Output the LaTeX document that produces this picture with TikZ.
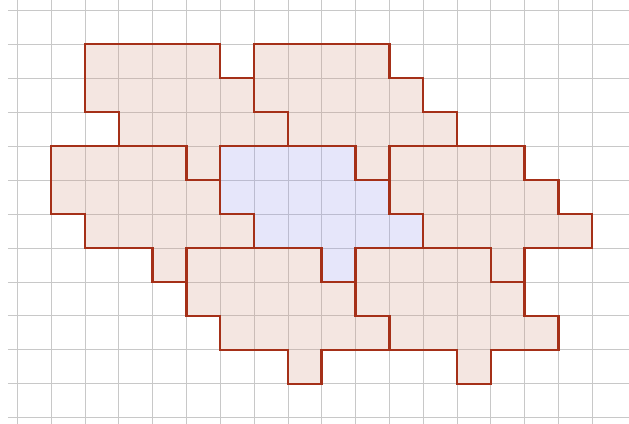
\documentclass[tikz,border=0pt]{standalone}
\definecolor{gridgray}{RGB}{200,200,200}
\definecolor{tileedge}{RGB}{165,48,24}
\definecolor{tilepink}{RGB}{211,155,135}
\definecolor{tileblue}{RGB}{155,155,235}
\tikzset{
  gridline/.style={gridgray, line width=0.55pt},
  tilefill/.style={fill=tilepink, fill opacity=0.25},
  centrefill/.style={fill=tileblue, fill opacity=0.25},
  tileline/.style={draw=tileedge, line width=2pt, line join=miter},
}
\newcommand{\tileoutline}{(0,0) -- (4,0) -- (4,-1) -- (5,-1) -- (5,-2) -- (6,-2) -- (6,-3) -- (4,-3) -- (4,-4) -- (3,-4) -- (3,-3) -- (1,-3) -- (1,-2) -- (0,-2) -- cycle}
\begin{document}
\begin{tikzpicture}[x=1cm,y=1.0047cm]
\useasboundingbox (-0.5115,0.2943) rectangle (18.087,-12.155);
% grid
\foreach \j in {0,...,12} \draw[gridline] (-0.275,-\j) -- (18.1,-\j);
\foreach \i in {0,...,17} \draw[gridline] (\i,0.3) -- (\i,-12.2);
% fills
\foreach \a/\b in {2/1,7/1,1/4,11/4,5/7,10/7}
  \path[tilefill, shift={(\a,-\b)}] \tileoutline;
\path[centrefill, shift={(6,-4)}] \tileoutline;
% outlines
\foreach \a/\b in {2/1,7/1,1/4,6/4,11/4,5/7,10/7}
  \path[tileline, shift={(\a,-\b)}] \tileoutline;
\end{tikzpicture}
\end{document}
